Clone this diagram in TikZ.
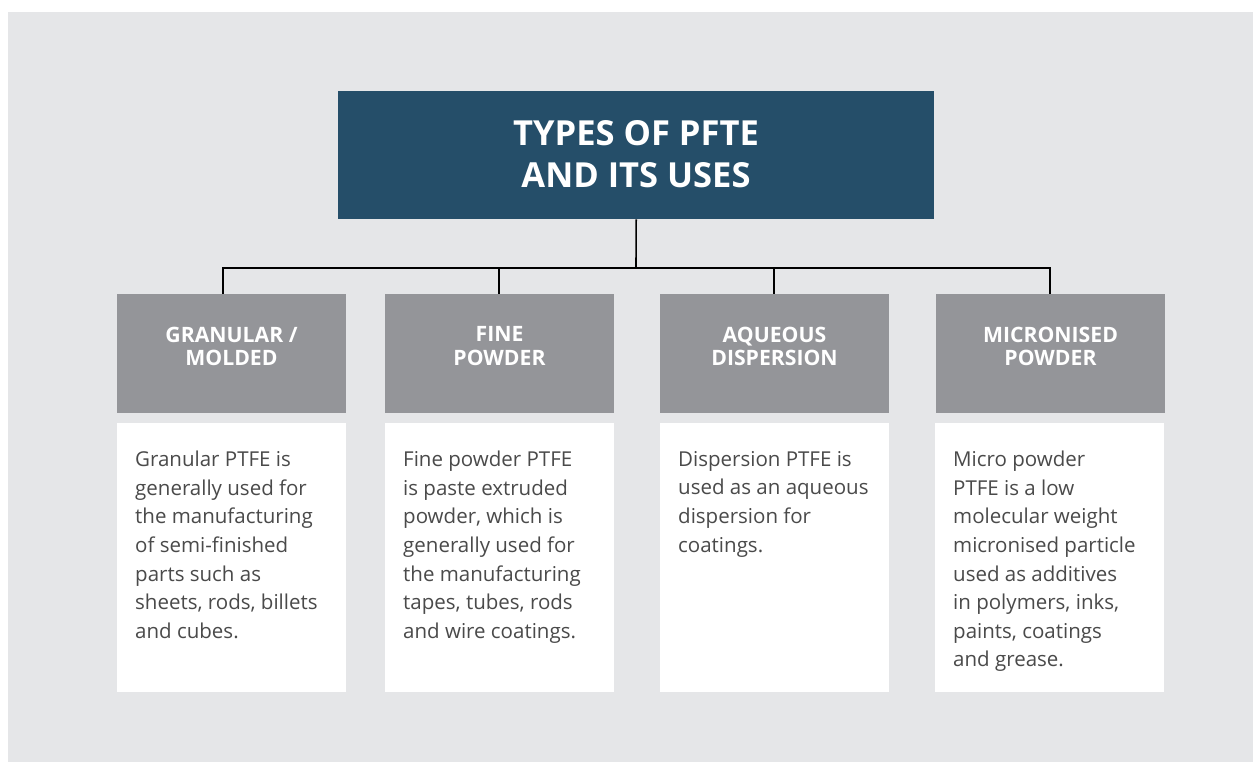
\documentclass[tikz,border=0pt]{standalone}
\usepackage{fontspec}
\setmainfont{Open Sans}
\definecolor{panel}{HTML}{E5E6E8}
\definecolor{titleblue}{HTML}{254E69}
\definecolor{headgray}{HTML}{949599}
\definecolor{bodytext}{HTML}{4A4A4A}
\begin{document}
\begin{tikzpicture}[x=1pt,y=-1pt,
  titlebox/.style={fill=titleblue, draw=none, minimum width=596pt, minimum height=128pt, inner sep=0pt, anchor=north west},
  headbox/.style={fill=headgray, draw=none, minimum width=229pt, minimum height=119pt, inner sep=0pt, anchor=north west},
  descbox/.style={fill=white, draw=none, minimum width=229pt, minimum height=269pt, inner sep=0pt, anchor=north west},
  titletext/.style={text=white, font=\fontsize{34.5}{42.5}\selectfont\bfseries, align=center, inner sep=0pt},
  headtext/.style={text=white, font=\fontsize{21.2}{23.2}\selectfont\bfseries, align=center, inner sep=0pt, anchor=north},
  bodytxt/.style={text=bodytext, font=\fontsize{20.5}{28.6}\selectfont, align=left, inner sep=0pt, anchor=north west},
  link/.style={draw=black, line width=1.6pt}
]
\useasboundingbox (0,0) rectangle (1253,762);
\fill[white] (0,0) rectangle (1253,762);
\fill[panel] (8,12) rectangle (1253,762);

\node[titlebox] (title) at (338,91) {};
\node[titletext] (titlet) at (636,154) {TYPES OF PFTE\\AND ITS USES};

\node[headbox] (h1) at (117,294) {};
\node[headbox] (h2) at (385,294) {};
\node[headbox] (h3) at (660,294) {};
\node[headbox] (h4) at (936,294) {};

\node[headtext] (h1t) at (231.5,326.5) {GRANULAR /\\MOLDED};
\node[headtext] (h2t) at (499.5,326.5) {FINE\\POWDER};
\node[headtext] (h3t) at (774.5,326.5) {AQUEOUS\\DISPERSION};
\node[headtext] (h4t) at (1050.5,326.5) {MICRONISED\\POWDER};

\node[descbox] (d1) at (117,423) {};
\node[descbox] (d2) at (385,423) {};
\node[descbox] (d3) at (660,423) {};
\node[descbox] (d4) at (935,423) {};

\node[bodytxt] (d1t) at (135,451) {Granular PTFE is\\generally used for\\the manufacturing\\of semi-finished\\parts such as\\sheets, rods, billets\\and cubes.};
\node[bodytxt] (d2t) at (403,451) {Fine powder PTFE\\is paste extruded\\powder, which is\\generally used for\\the manufacturing\\tapes, tubes, rods\\and wire coatings.};
\node[bodytxt] (d3t) at (678,451) {Dispersion PTFE is\\used as an aqueous\\dispersion for\\coatings.};
\node[bodytxt] (d4t) at (953,451) {Micro powder\\PTFE is a low\\molecular weight\\micronised particle\\used as additives\\in polymers, inks,\\paints, coatings\\and grease.};

\coordinate (bus) at (636,268);
\coordinate (c1) at (223,294);
\coordinate (c2) at (499,294);
\coordinate (c3) at (774,294);
\coordinate (c4) at (1050,294);
\draw[link] (title.south) -- (bus);
\draw[link] (c1) |- (bus) -| (c4);
\draw[link] (bus) -| (c2);
\draw[link] (bus) -| (c3);
\end{tikzpicture}
\end{document}
